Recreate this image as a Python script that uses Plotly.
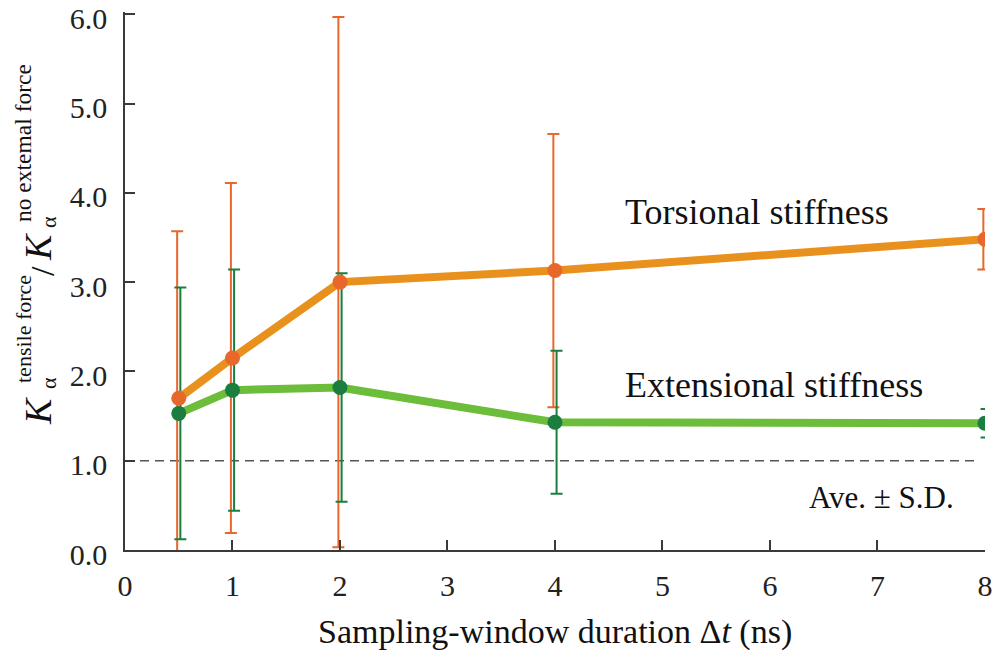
import plotly.graph_objects as go

# ---- data ----
dt = [0.5, 1, 2, 4, 8]
torsional = [1.70, 2.15, 3.00, 3.13, 3.48]
torsional_sd = [1.87, 1.96, 2.97, 1.53, 0.34]
extensional = [1.53, 1.79, 1.82, 1.43, 1.42]
extensional_sd = [1.41, 1.35, 1.28, 0.80, 0.16]
x_ticks = [0, 1, 2, 3, 4, 5, 6, 7, 8]
y_ticks = [0, 1, 2, 3, 4, 5, 6]
reference_level = 1.0

FONT = "Liberation Serif"
OR_LINE = "#E8911C"
OR_MARK = "#E8672A"
GR_LINE = "#6CBD3A"
GR_MARK = "#1C7E3E"
AX = "#3a3a3a"

W, H = 997, 657
ML, MR, MT, MB = 125, 12, 12, 107
Y_TOP = y_ticks[-1] + 0.025
pxw = (W - ML - MR) / (x_ticks[-1] - x_ticks[0])
dodge = 1.6 / pxw

fig = go.Figure()

# error bars (drawn first, slightly dodged)
fig.add_trace(go.Scatter(
    x=[v - dodge for v in dt], y=torsional, mode="markers",
    marker=dict(size=1, color="rgba(0,0,0,0)"),
    error_y=dict(type="data", array=torsional_sd, visible=True,
                 color=OR_MARK, thickness=2, width=6),
    showlegend=False, hoverinfo="skip"))
fig.add_trace(go.Scatter(
    x=[v + dodge for v in dt], y=extensional, mode="markers",
    marker=dict(size=1, color="rgba(0,0,0,0)"),
    error_y=dict(type="data", array=extensional_sd, visible=True,
                 color=GR_MARK, thickness=2, width=6),
    showlegend=False, hoverinfo="skip"))

# thick lines
fig.add_trace(go.Scatter(x=dt, y=extensional, mode="lines",
                         line=dict(color=GR_LINE, width=8), showlegend=False))
fig.add_trace(go.Scatter(x=dt, y=torsional, mode="lines",
                         line=dict(color=OR_LINE, width=8), showlegend=False))
# markers
fig.add_trace(go.Scatter(x=dt, y=extensional, mode="markers",
                         marker=dict(color=GR_MARK, size=15), showlegend=False))
fig.add_trace(go.Scatter(x=dt, y=torsional, mode="markers",
                         marker=dict(color=OR_MARK, size=15), showlegend=False))

# dashed reference line
fig.add_shape(type="line", xref="x", yref="y", x0=x_ticks[0], x1=x_ticks[-1] - 0.09,
              y0=reference_level, y1=reference_level,
              line=dict(color="#555555", width=1.5, dash="9px,6px"), layer="below")

ann = []
def add(text, x, y, size, xref="x", yref="y", angle=0, italic=False, color="#111"):
    ann.append(dict(text=text, x=x, y=y, xref=xref, yref=yref, showarrow=False,
                    textangle=angle, xanchor="center", yanchor="middle",
                    font=dict(family=FONT, size=size, color=color,
                              style="italic" if italic else "normal")))

add("Torsional stiffness", 5.88, 3.78, 36)
add("Extensional stiffness", 6.035, 1.85, 36)
add("Ave. ± S.D.", 7.04, 0.59, 31)

def px_to_paper_x(px):
    return (px - ML) / (W - ML - MR)
def px_to_paper_y(py):
    return (H - MB - py) / (H - MT - MB)

add("Sampling-window duration Δ<i>t</i> (ns)", px_to_paper_x(555), px_to_paper_y(632), 34,
    xref="paper", yref="paper")

# y-axis title pieces (rotated)
add("K", px_to_paper_x(38), px_to_paper_y(411), 38, "paper", "paper", -90, italic=True)
add("α", px_to_paper_x(48), px_to_paper_y(383), 22, "paper", "paper", -90)
add("tensile force", px_to_paper_x(23), px_to_paper_y(329), 22, "paper", "paper", -90)
add("/", px_to_paper_x(42), px_to_paper_y(271), 34, "paper", "paper", -90)
add("K", px_to_paper_x(38), px_to_paper_y(247), 38, "paper", "paper", -90, italic=True)
add("α", px_to_paper_x(48), px_to_paper_y(222), 22, "paper", "paper", -90)
add("no extemal force", px_to_paper_x(23), px_to_paper_y(143), 23.5, "paper", "paper", -90)

fig.update_layout(
    width=W, height=H, margin=dict(l=ML, r=MR, t=MT, b=MB, autoexpand=False),
    paper_bgcolor="white", plot_bgcolor="white",
    annotations=ann, showlegend=False,
    xaxis=dict(range=[x_ticks[0], x_ticks[-1] + 0.0005], tickvals=x_ticks, ticks="inside",
               ticklen=10, tickwidth=1.5, tickcolor=AX, showline=True, linecolor=AX,
               linewidth=1.5, showgrid=False, zeroline=False, automargin=False,
               tickfont=dict(family=FONT, size=30, color="#222"),
               ticklabelstandoff=8, ticklabeloverflow="allow"),
    yaxis=dict(range=[y_ticks[0], Y_TOP], tickvals=y_ticks, tickformat=".1f",
               ticks="inside", ticklen=10, tickwidth=1.5, tickcolor=AX,
               showline=True, linecolor=AX, linewidth=1.5, showgrid=False,
               zeroline=False, automargin=False,
               tickfont=dict(family=FONT, size=30, color="#222"),
               ticklabelstandoff=10, ticklabelshift=4, ticklabeloverflow="allow"),
)

fig.write_html("out.html", config={"displayModeBar": False},
               post_script="document.body.style.margin='0';document.body.style.overflow='hidden';")
